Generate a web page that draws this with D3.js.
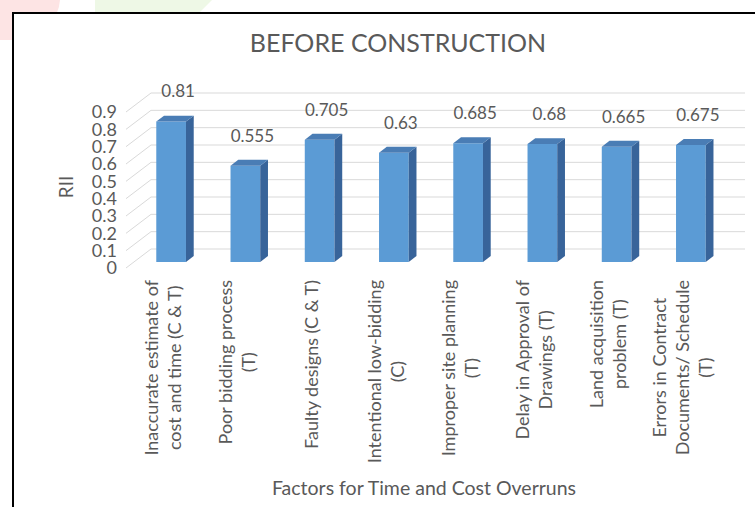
<!DOCTYPE html>
<html>
<head>
<meta charset="utf-8">
<script src="https://cdn.jsdelivr.net/npm/d3@7"></script>
<style>
  body { margin: 0; background: #fff; }
  svg { display: block; }
  text { font-family: Lato, "Open Sans", sans-serif; fill: #595959; }
</style>
</head>
<body>
<script>
var width = 755;
var height = 507;

// data
var categories = [
  ["Inaccurate estimate of", "cost and time (C & T)"],
  ["Poor bidding process", "(T)"],
  ["Faulty designs (C & T)"],
  ["Intentional low-bidding", "(C)"],
  ["Improper site planning", "(T)"],
  ["Delay in Approval of", "Drawings (T)"],
  ["Land acquisition", "problem (T)"],
  ["Errors in Contract", "Documents/ Schedule", "(T)"]
];
var rii = [0.81, 0.555, 0.705, 0.63, 0.685, 0.68, 0.665, 0.675];
var ticks = [0, 0.1, 0.2, 0.3, 0.4, 0.5, 0.6, 0.7, 0.8, 0.9];

// depth of the 3d box
var DX = 25;
var DY = -19;
var barFront = 0.32;
var barBack = 0.63;

var svg = d3.select("body").append("svg")
  .attr("width", width)
  .attr("height", height);

// faint page decoration behind the frame
svg.append("path")
  .attr("d", "M0,0 L60,0 Q58,30 16,40 L0,40 Z")
  .attr("fill", "#fde4e4");
svg.append("path")
  .attr("d", "M95,0 L212,0 L200,12 L95,12 Z")
  .attr("fill", "#eef8e6");

svg.append("rect")
  .attr("x", 13).attr("y", 13)
  .attr("width", 760).attr("height", 520)
  .attr("fill", "#fff")
  .attr("stroke", "#000")
  .attr("stroke-width", 2);

var x = d3.scaleBand()
  .domain(d3.range(categories.length))
  .range([126, 720])
  .paddingInner(0.6)
  .paddingOuter(0.3);

var y = d3.scaleLinear()
  .domain([0, 0.9])
  .range([268, 112]);

// gridlines on the back wall + diagonals on the side
var grid = svg.append("g");
grid.selectAll(".back")
  .data(ticks)
  .enter()
  .append("line")
  .attr("x1", 126 + DX)
  .attr("x2", 720 + DX)
  .attr("y1", function (d) { return y(d) + DY; })
  .attr("y2", function (d) { return y(d) + DY; })
  .attr("stroke", "#d9d9d9")
  .attr("stroke-width", 1);
grid.selectAll(".diag")
  .data(ticks)
  .enter()
  .append("line")
  .attr("x1", 126)
  .attr("x2", 126 + DX)
  .attr("y1", function (d) { return y(d); })
  .attr("y2", function (d) { return y(d) + DY; })
  .attr("stroke", "#d9d9d9")
  .attr("stroke-width", 1);

svg.append("g").selectAll("text")
  .data(ticks)
  .enter()
  .append("text")
  .attr("x", 117)
  .attr("y", function (d) { return y(d); })
  .attr("dy", "0.35em")
  .attr("text-anchor", "end")
  .style("font-size", "18px")
  .text(function (d) { return d; });

// bars
var bw = x.bandwidth();
var bars = svg.append("g").selectAll("g")
  .data(rii)
  .enter()
  .append("g");

function pt(px, py, f) {
  return [px + f * DX, py + f * DY];
}

bars.append("path")
  .attr("fill", "#5b9bd5")
  .attr("d", function (d, i) {
    var x0 = x(i), x1 = x(i) + bw;
    return d3.line()([
      pt(x0, y(0), barFront), pt(x1, y(0), barFront),
      pt(x1, y(d), barFront), pt(x0, y(d), barFront)
    ]) + "Z";
  });

bars.append("path")
  .attr("fill", "#38649a")
  .attr("d", function (d, i) {
    var x1 = x(i) + bw;
    return d3.line()([
      pt(x1, y(0), barFront), pt(x1, y(0), barBack),
      pt(x1, y(d), barBack), pt(x1, y(d), barFront)
    ]) + "Z";
  });

bars.append("path")
  .attr("fill", "#4a7db5")
  .attr("d", function (d, i) {
    var x0 = x(i), x1 = x(i) + bw;
    return d3.line()([
      pt(x0, y(d), barFront), pt(x1, y(d), barFront),
      pt(x1, y(d), barBack), pt(x0, y(d), barBack)
    ]) + "Z";
  });

bars.append("text")
  .attr("x", function (d, i) { return x(i) + bw / 2 + 15; })
  .attr("y", function (d) { return y(d) + barFront * DY - 30; })
  .attr("dy", "0.35em")
  .attr("text-anchor", "middle")
  .style("font-size", "17px")
  .text(function (d) { return d; });

// category labels, rotated
var lineH = 23;
var labels = svg.append("g").selectAll("g")
  .data(categories)
  .enter()
  .append("g")
  .attr("transform", function (d, i) {
    return "translate(" + (x(i) + bw / 2) + ",280) rotate(-90)";
  });

labels.each(function (lines) {
  var g = d3.select(this);
  var t = g.append("text")
    .attr("text-anchor", "middle")
    .style("font-size", "18px");
  t.selectAll("tspan")
    .data(lines)
    .enter()
    .append("tspan")
    .attr("x", 0)
    .attr("y", function (d, i) { return (i - (lines.length - 1) / 2) * lineH; })
    .attr("dy", "0.35em")
    .text(function (d) { return d; });
  var maxLen = 0;
  t.selectAll("tspan").each(function () {
    maxLen = Math.max(maxLen, this.getComputedTextLength());
  });
  t.selectAll("tspan").attr("x", -maxLen / 2);
});

svg.append("text")
  .attr("x", 398)
  .attr("y", 43)
  .attr("dy", "0.35em")
  .attr("text-anchor", "middle")
  .style("font-size", "25px")
  .text("BEFORE CONSTRUCTION");

svg.append("text")
  .attr("transform", "translate(66,187) rotate(-90)")
  .attr("dy", "0.35em")
  .attr("text-anchor", "middle")
  .style("font-size", "19px")
  .text("RII");

svg.append("text")
  .attr("x", 424)
  .attr("y", 488)
  .attr("dy", "0.35em")
  .attr("text-anchor", "middle")
  .style("font-size", "19.5px")
  .text("Factors for Time and Cost Overruns");
</script>
</body>
</html>
